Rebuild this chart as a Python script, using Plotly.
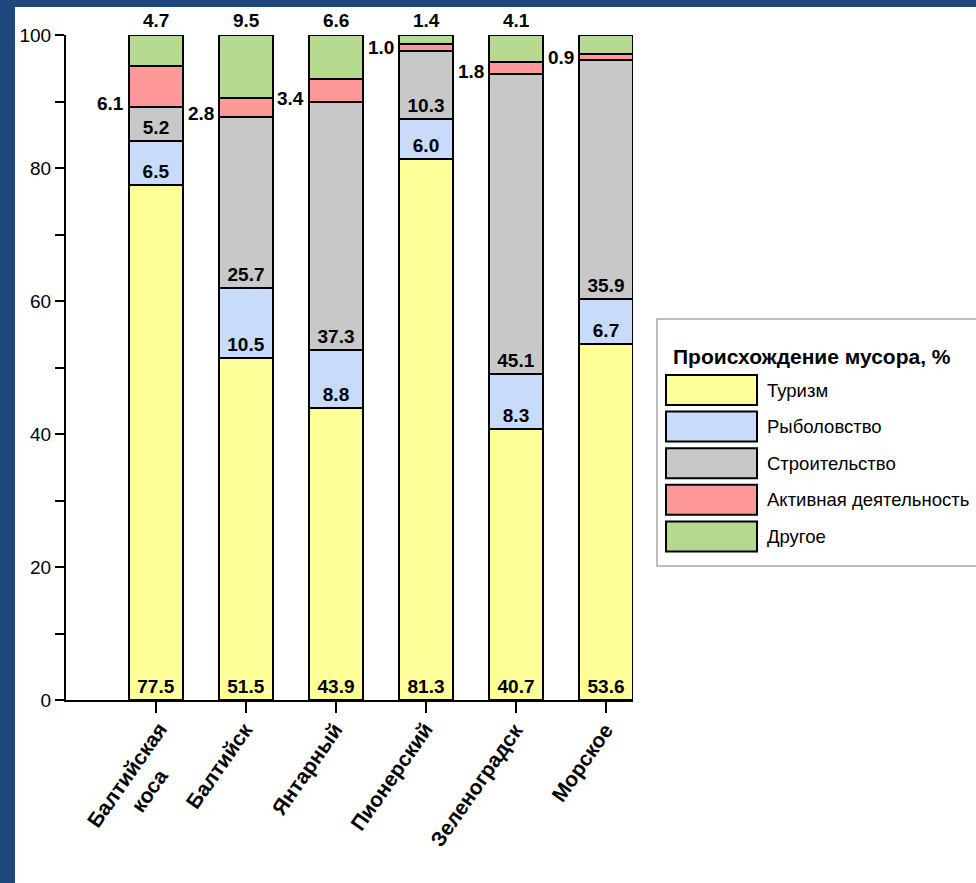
import plotly.graph_objects as go

# Beach litter origin by site, percent of total
sites = ["Балтийская<br>коса", "Балтийск", "Янтарный", "Пионерский", "Зеленоградск", "Морское"]
series_names = ["Туризм", "Рыболовство", "Строительство", "Активная деятельность", "Другое"]
tourism = [77.5, 51.5, 43.9, 81.3, 40.7, 53.6]
fishing = [6.5, 10.5, 8.8, 6.0, 8.3, 6.7]
construction = [5.2, 25.7, 37.3, 10.3, 45.1, 35.9]
activity = [6.1, 2.8, 3.4, 1.0, 1.8, 0.9]
other = [4.7, 9.5, 6.6, 1.4, 4.1, 2.9]
y_ticks = [0, 20, 40, 60, 80, 100]
legend_title = "Происхождение мусора, %"

colors = ["#FFFF99", "#C9DBFB", "#C8C8C8", "#FF9999", "#B5D98F"]
series = [tourism, fishing, construction, activity, other]

W, H = 976, 883
L, R, T, B = 66, 633, 35, 700  # plot area in pixels


def px(x):
    return (x - L) / (R - L)


def py(y):
    return (B - y) / (B - T)


SANS = "Liberation Sans, Arial"
VALUE_FONT = dict(family=SANS, size=19, color="black", weight="bold")

xpos = list(range(len(sites)))
fig = go.Figure()

for k, (name, vals, col) in enumerate(zip(series_names, series, colors)):
    labelled = k < 3
    fig.add_trace(go.Bar(
        x=xpos, y=vals, name=name, width=0.6,
        marker=dict(color=col, line=dict(color="black", width=2)),
        text=[f"{v:.1f}" for v in vals] if labelled else None,
        textposition="inside" if labelled else "none",
        insidetextanchor="start", textangle=0, constraintext="none",
        textfont=VALUE_FONT,
        showlegend=False, hoverinfo="skip",
    ))

annotations = []
shapes = []

# values of the top two segments, written beside / above each bar
for i in xpos:
    base = tourism[i] + fishing[i] + construction[i]
    annotations.append(dict(
        x=i - 0.3, y=base, xref="x", yref="y", text=f"{activity[i]:.1f}",
        xanchor="right", yanchor="middle", xshift=-3, yshift=3, showarrow=False,
        font=VALUE_FONT,
    ))
    annotations.append(dict(
        x=i, y=base + activity[i] + other[i], xref="x", yref="y", text=f"{other[i]:.1f}",
        xanchor="center", yanchor="bottom", yshift=2, showarrow=False,
        font=VALUE_FONT,
    ))
    # rotated category labels, multi-line ones centred
    extra_lines = sites[i].count("<br>")
    annotations.append(dict(
        x=i, y=py(716), xref="x", yref="paper", text=sites[i],
        textangle=-55, xanchor="right", yanchor="top",
        xshift=14 + 26 * extra_lines, showarrow=False, align="center",
        font=dict(family=SANS, size=21, color="black", weight="bold"),
    ))

# legend box
shapes.append(dict(type="rect", xref="paper", yref="paper",
                   x0=px(657), x1=px(990), y0=py(566), y1=py(319),
                   line=dict(color="#A8A8A8", width=1.5), fillcolor="white", layer="above"))
annotations.append(dict(
    x=px(671), y=py(357), xref="paper", yref="paper", text=legend_title,
    xanchor="left", yanchor="middle", showarrow=False,
    font=dict(family=SANS, size=21, color="black", weight="bold"),
))
for k, (name, col) in enumerate(zip(series_names, colors)):
    top = 375 + k * 36.6
    shapes.append(dict(type="rect", xref="paper", yref="paper",
                       x0=px(666), x1=px(757), y0=py(top + 30), y1=py(top),
                       line=dict(color="black", width=2), fillcolor=col, layer="above"))
    annotations.append(dict(
        x=px(765), y=py(top + 15), xref="paper", yref="paper", text=name,
        xanchor="left", yanchor="middle", showarrow=False,
        font=dict(family=SANS, size=18.5, color="black"),
    ))

# dark blue frame along the top and left edges
frame = "#1F497D"
shapes.append(dict(type="rect", xref="paper", yref="paper",
                   x0=px(0), x1=px(W + 5), y0=py(7), y1=py(-5),
                   line=dict(width=0), fillcolor=frame, layer="above"))
shapes.append(dict(type="rect", xref="paper", yref="paper",
                   x0=px(-5), x1=px(15), y0=py(H + 5), y1=py(-5),
                   line=dict(width=0), fillcolor=frame, layer="above"))

fig.update_layout(
    width=W, height=H, barmode="stack",
    margin=dict(l=L, r=W - R, t=T, b=H - B, pad=0),
    paper_bgcolor="white", plot_bgcolor="white",
    showlegend=False, annotations=annotations, shapes=shapes,
    xaxis=dict(range=[-1, 5.3], tickvals=xpos, showticklabels=False,
               ticks="outside", ticklen=11, tickwidth=2, tickcolor="black",
               showline=True, linecolor="black", linewidth=2,
               showgrid=False, zeroline=False, fixedrange=True),
    yaxis=dict(range=[0, 100], tickvals=y_ticks, ticks="outside", ticklen=9,
               tickwidth=2, tickcolor="black",
               minor=dict(dtick=10, ticks="outside", ticklen=9, tickwidth=2, tickcolor="black"),
               showline=True, linecolor="black", linewidth=2,
               showgrid=False, zeroline=False, fixedrange=True,
               tickfont=dict(family=SANS, size=19, color="black")),
)

fig.write_html("out.html")
